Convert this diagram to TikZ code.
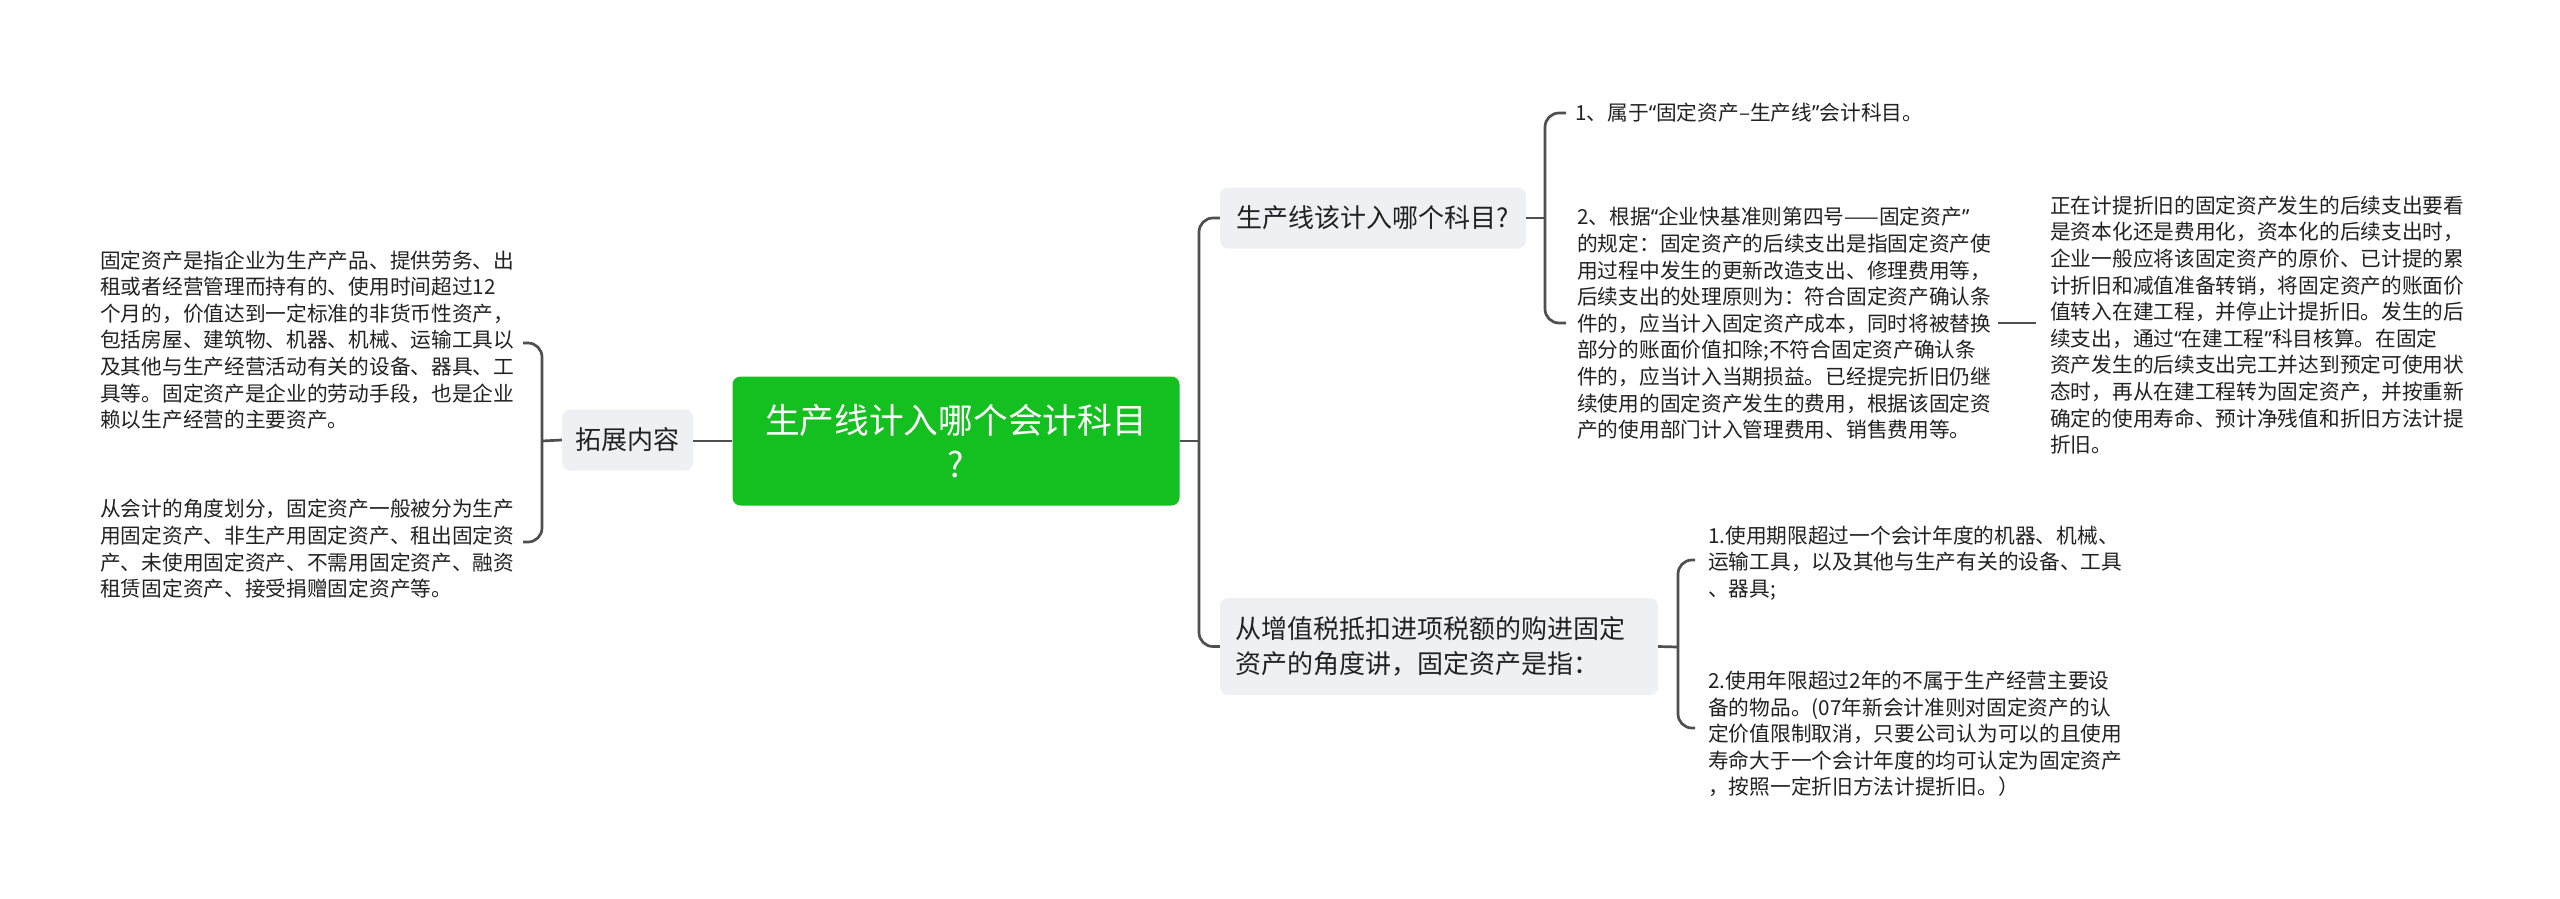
\documentclass[tikz,border=0pt]{standalone}
\usepackage{fontspec}
\setmainfont{Noto Sans CJK SC}
\newfontfamily\latinqfont{Noto Sans}
\newcommand{\qopen}{{\latinqfont “}}
\newcommand{\qclose}{{\latinqfont ”}}
\definecolor{rootgreen}{HTML}{14C01F}
\definecolor{boxgray}{HTML}{EEF0F4}
\definecolor{linegray}{HTML}{4F4F4F}
\definecolor{txtcol}{HTML}{222222}
\begin{document}
\begin{tikzpicture}[x=1pt,y=-1pt,
  rootbox/.style={fill=rootgreen, rounded corners=8pt, text=white, align=center, inner sep=0pt,
    font=\fontsize{34.7}{44}\selectfont},
  subbox/.style={fill=boxgray, rounded corners=8pt, text=txtcol, inner sep=0pt,
    font=\fontsize{26}{35}\selectfont},
  leaf/.style={text=txtcol, align=left, inner sep=0pt, anchor=west,
    font=\fontsize{20.7}{26.6}\selectfont},
  conn/.style={draw=linegray, line width=2.7pt, rounded corners=14pt}]
\useasboundingbox (0,0) rectangle (2560,898);
\fill[white] (0,0) rectangle (2560,898);

% nodes
\node[rootbox, minimum width=447pt, minimum height=129pt] (root) at (956,441)
  {生产线计入哪个会计科目\\?};
\node[subbox, minimum width=131pt, minimum height=61pt] (ext) at (627.5,440) {拓展内容};
\node[subbox, minimum width=306pt, minimum height=61pt] (b1) at (1373,218) {生产线该计入哪个科目?};
\node[subbox, minimum width=438pt, minimum height=97pt, text width=408pt, align=left, inner xsep=15pt] (b2) at (1439,646.5)
  {从增值税抵扣进项税额的购进固定\\资产的角度讲，固定资产是指：};

\node[leaf] (tA) at (100,340) {固定资产是指企业为生产产品、提供劳务、出\\租或者经营管理而持有的、使用时间超过12\\个月的，价值达到一定标准的非货币性资产，\\包括房屋、建筑物、机器、机械、运输工具以\\及其他与生产经营活动有关的设备、器具、工\\具等。固定资产是企业的劳动手段，也是企业\\赖以生产经营的主要资产。};
\node[leaf] (tB) at (100,549) {从会计的角度划分，固定资产一般被分为生产\\用固定资产、非生产用固定资产、租出固定资\\产、未使用固定资产、不需用固定资产、融资\\租赁固定资产、接受捐赠固定资产等。};

\node[leaf] (t1) at (1575,113) {1、属于\qopen 固定资产–生产线\qclose 会计科目。};
\node[leaf] (t2) at (1577,323.5) {2、根据\qopen 企业快基准则第四号——固定资产\qclose\\的规定：固定资产的后续支出是指固定资产使\\用过程中发生的更新改造支出、修理费用等，\\后续支出的处理原则为：符合固定资产确认条\\件的，应当计入固定资产成本，同时将被替换\\部分的账面价值扣除;不符合固定资产确认条\\件的，应当计入当期损益。已经提完折旧仍继\\续使用的固定资产发生的费用，根据该固定资\\产的使用部门计入管理费用、销售费用等。};
\node[leaf] (t3) at (2050,325) {正在计提折旧的固定资产发生的后续支出要看\\是资本化还是费用化，资本化的后续支出时，\\企业一般应将该固定资产的原价、已计提的累\\计折旧和减值准备转销，将固定资产的账面价\\值转入在建工程，并停止计提折旧。发生的后\\续支出，通过\qopen 在建工程\qclose 科目核算。在固定\\资产发生的后续支出完工并达到预定可使用状\\态时，再从在建工程转为固定资产，并按重新\\确定的使用寿命、预计净残值和折旧方法计提\\折旧。};
\node[leaf] (t4) at (1708,563) {1.使用期限超过一个会计年度的机器、机械、\\运输工具，以及其他与生产有关的设备、工具\\、器具;};
\node[leaf] (t5) at (1708,734) {2.使用年限超过2年的不属于生产经营主要设\\备的物品。(07年新会计准则对固定资产的认\\定价值限制取消，只要公司认为可以的且使用\\寿命大于一个会计年度的均可认定为固定资产\\，按照一定折旧方法计提折旧。）};

% coordinates for bracket ends
\coordinate (lv) at (542,441);
\coordinate (hA) at (523,343);
\coordinate (hB) at (523,542);
\coordinate (rv) at (1199,441);
\coordinate (v1) at (1545,218);
\coordinate (h1) at (1566,113);
\coordinate (h2) at (1566,323);
\coordinate (e2) at (1998,323);
\coordinate (s3) at (2036,323);
\coordinate (v2) at (1678,647);
\coordinate (h4) at (1695,560);
\coordinate (h5) at (1695,728);

% connectors
\draw[conn] (root.west) -- (ext.east |- root.west);
\draw[conn] (ext.west) -- (lv);
\draw[conn] (hA) -- (hA -| lv) -- (hB -| lv) -- (hB);

\draw[conn] (root.east) -- (rv);
\draw[conn] (b1.west) -- (b1.west -| rv) -- (b2.west -| rv) -- (b2.west);

\draw[conn] (b1.east) -- (v1);
\draw[conn] (h1) -- (h1 -| v1) -- (h2 -| v1) -- (h2);
\draw[conn] (e2) -- (s3);

\draw[conn] (b2.east) -- (v2);
\draw[conn] (h4) -- (h4 -| v2) -- (h5 -| v2) -- (h5);
\end{tikzpicture}
\end{document}
